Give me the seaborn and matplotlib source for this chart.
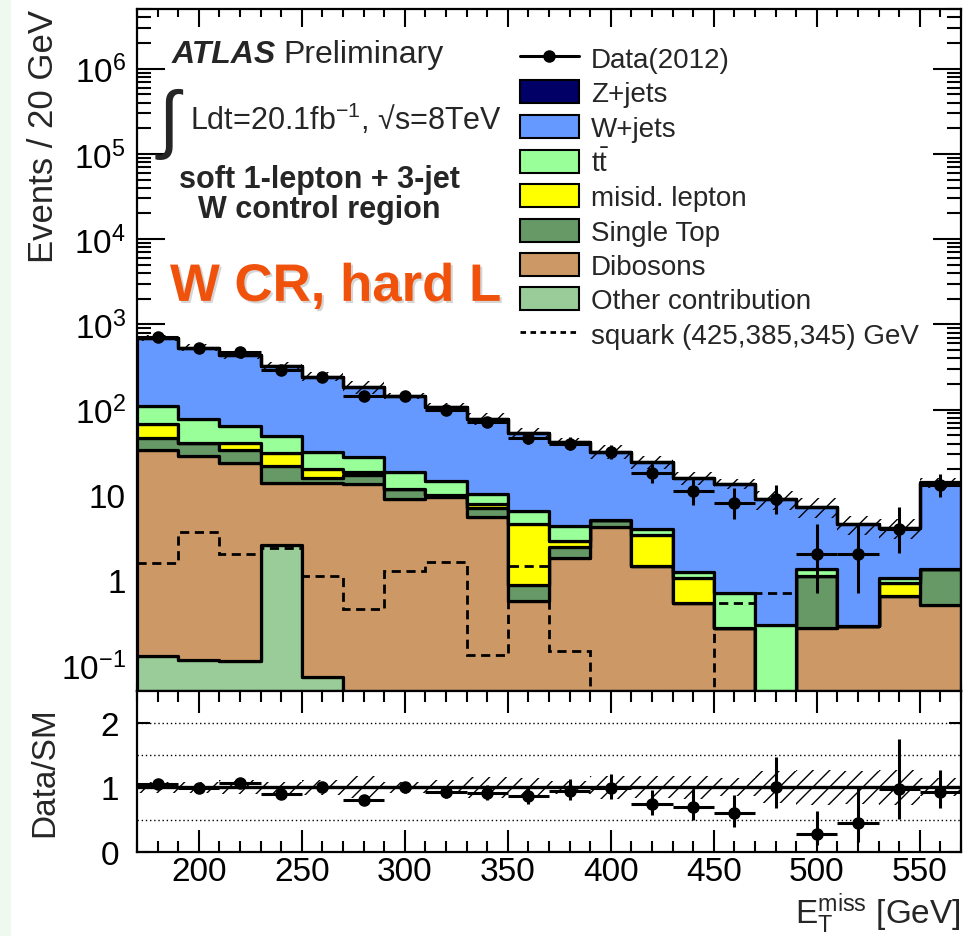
import numpy as np
import pandas as pd
import matplotlib
matplotlib.use("Agg")
import matplotlib.pyplot as plt
import matplotlib.patheffects as pe
import seaborn as sns
from matplotlib.lines import Line2D
from matplotlib.patches import Patch, Rectangle
from matplotlib.ticker import FixedLocator, FixedFormatter, MultipleLocator, NullFormatter

# ---------------------------------------------------------------- data
bin_edges = [170, 190, 210, 230, 250, 270, 290, 310, 330, 350, 370,
             390, 410, 430, 450, 470, 490, 510, 530, 550, 570]

data_counts = [719, 530, 470, 295, 244, 146, 146, 100, 71, 46,
               40, 32, 18, 11, 8, 9, 2, 2, 4, 13]
data_err_lo = [27, 23, 21.7, 17.2, 15.6, 12, 12, 10, 8.4, 6.8,
               6.3, 5.6, 4.2, 3.3, 2.8, 3.0, 1.3, 1.3, 1.9, 3.6]
data_err_hi = [28, 24, 22.7, 18.2, 16.6, 13, 13, 11, 9.4, 7.8,
               7.4, 6.7, 5.3, 4.4, 3.9, 4.1, 2.6, 2.6, 3.2, 4.7]

z_jets = [1.2, 0.9, 0.7, 0.5, 0.4, 0.3, 0.25, 0.2, 0.15, 0.1,
          0.08, 0.06, 0.05, 0.04, 0.03, 0.02, 0.02, 0.01, 0.01, 0.03]
w_jets = [574.8, 455.5, 371.4, 278.0, 211.5, 154.6, 127.4, 93.1, 67.3, 46.2,
          37.7, 27.0, 20.1, 14.6, 12.7, 8.6, 5.9, 4.24, 3.06, 12.6]
ttbar = [43.2, 37.1, 24.7, 18.8, 12.2, 9.4, 6.8, 4.8, 2.4, 1.94,
         1.48, 0.0, 0.60, 0.16, 0.427, 0.296, 0.22, 0.0, 0.136, 0.0]
misid_lepton = [20.9, 0.0, 6.6, 8.7, 4.3, 1.6, 0.0, 0.0, 0.85, 3.64,
                0.40, 0.0, 1.91, 0.537, 0.0, 0.0, 0.0, 0.0, 0.258, 0.0]
single_top = [13.3, 11.9, 10.2, 8.1, 1.7, 3.8, 2.67, 0.4, 1.46, 0.30,
              0.67, 0.86, 0.0, 0.0, 0.0, 0.0, 0.854, 0.0, 0.0, 0.831]
dibosons = [33.5, 28.5, 23.3, 11.3, 13.8, 13.3, 8.93, 9.5, 5.49, 0.573,
            1.80, 4.2, 1.46, 0.533, 0.271, 0.0, 0.276, 0.29, 0.656, 0.509]
other_contrib = [0.13, 0.115, 0.113, 2.57, 0.073, 0, 0, 0, 0, 0,
                 0, 0, 0, 0, 0, 0, 0, 0, 0, 0]

squark_signal = [1.57, 3.63, 2.0, 2.36, 1.13, 0.453, 1.29, 1.64, 0.132, 1.46,
                 0.148, 0, 0, 0, 0.542, 0.698, 0, 0, 0, 0]

sm_rel_unc = [0.08, 0.09, 0.11, 0.09, 0.12, 0.17, 0.08, 0.11, 0.16, 0.14,
              0.10, 0.18, 0.17, 0.18, 0.14, 0.25, 0.27, 0.26, 0.27, 0.14]

process_names = ["Z+jets", "W+jets", "t$\\bar{\\rm t}$", "misid. lepton",
                 "Single Top", "Dibosons", "Other contribution"]
process_values = [z_jets, w_jets, ttbar, misid_lepton, single_top, dibosons, other_contrib]
process_colors = ["#000066", "#6699ff", "#99ff99", "#ffff00", "#669966", "#cc9966", "#99cc99"]

y_ticks = [0.1, 1, 10, 100, 1e3, 1e4, 1e5, 1e6]
y_tick_labels = ["$10^{-1}$", "1", "10", "$10^{2}$", "$10^{3}$", "$10^{4}$", "$10^{5}$", "$10^{6}$"]
x_ticks = [200, 250, 300, 350, 400, 450, 500, 550]

# ---------------------------------------------------------------- style
sns.set_theme(style="ticks")
plt.rcParams.update({
    "font.family": ["Liberation Sans", "DejaVu Sans"],
    "mathtext.fontset": "custom",
    "mathtext.rm": "Liberation Sans",
    "mathtext.it": "Liberation Sans:italic",
    "mathtext.bf": "Liberation Sans:bold",
    "axes.linewidth": 1.6,
    "hatch.linewidth": 1.0,
    "xtick.direction": "in",
    "ytick.direction": "in",
    "xtick.color": "black",
    "ytick.color": "black",
    "axes.edgecolor": "black",
})

edges = np.array(bin_edges, dtype=float)
centers = 0.5 * (edges[:-1] + edges[1:])
nbins = len(centers)

df = pd.DataFrame({
    "met": np.tile(centers, len(process_names)),
    "events": np.concatenate([np.asarray(v, dtype=float) for v in process_values]),
    "process": np.repeat(process_names, nbins),
})

total = np.sum([np.asarray(v, dtype=float) for v in process_values], axis=0)
data = np.asarray(data_counts, dtype=float)
err_lo = np.asarray(data_err_lo, dtype=float)
err_hi = np.asarray(data_err_hi, dtype=float)
rel = np.asarray(sm_rel_unc, dtype=float)

fig = plt.figure(figsize=(9.76, 9.37), dpi=100)
fig.patches.append(Rectangle((0, 0), 11 / 976, 1, transform=fig.transFigure,
                             facecolor="#f0f9f0", edgecolor="none", zorder=-5))
ax = fig.add_axes([0.1404, 0.2615, 0.8443, 0.7278])
axr = fig.add_axes([0.1404, 0.0900, 0.8443, 0.1715], sharex=ax)

# ---------------------------------------------------------------- main panel
ax.set_yscale("log")
sns.histplot(data=df, x="met", weights="events", hue="process",
             hue_order=process_names, palette=process_colors,
             multiple="stack", bins=list(bin_edges), element="step", fill=True,
             alpha=1, edgecolor="black", linewidth=2.2, legend=False, ax=ax)
for coll in ax.collections:
    coll.set_linewidth(2.3)
    coll.set_edgecolor("black")

# systematic band around the SM total
tot_ext = np.append(total, total[-1])
rel_ext = np.append(rel, rel[-1])
ax.fill_between(edges, tot_ext * (1 - rel_ext), tot_ext * (1 + rel_ext), step="post",
                facecolor="none", edgecolor="black", hatch="//", linewidth=0, zorder=2)

# signal
ax.stairs(squark_signal, edges, baseline=None, color="black", lw=2.0,
          linestyle=(0, (3.3, 2.0)), zorder=3)

# data
ax.errorbar(centers, data, xerr=10, yerr=[err_lo, err_hi], fmt="o", color="black",
            ms=8, elinewidth=2.2, capsize=0, zorder=5)

ax.set_xlim(170, 570)
ax.set_ylim(0.05, 5e6)
ax.set_xlabel("")
ax.set_ylabel("Events / 20 GeV", fontsize=25, loc="top")
ax.yaxis.set_label_coords(-0.093, 1.0)
ax.yaxis.set_major_locator(FixedLocator(y_ticks))
ax.yaxis.set_major_formatter(FixedFormatter(y_tick_labels))
minor = [m * 10.0 ** k for k in range(-2, 7) for m in range(2, 10)]
ax.yaxis.set_minor_locator(FixedLocator(minor))
ax.yaxis.set_minor_formatter(NullFormatter())
ax.xaxis.set_major_locator(FixedLocator(x_ticks))
ax.xaxis.set_minor_locator(MultipleLocator(10))
ax.tick_params(axis="both", which="both", top=True, right=True, labelbottom=False,
               width=1.5, labelsize=24)
ax.tick_params(axis="y", which="major", length=20, pad=8)
ax.tick_params(axis="y", which="minor", length=10)
ax.tick_params(axis="x", which="major", length=13)
ax.tick_params(axis="x", which="minor", length=6)

# labels
ax.text(0.0425, 0.922, "ATLAS", transform=ax.transAxes, fontsize=23,
        fontweight="bold", style="italic", va="baseline")
ax.text(0.178, 0.922, "Preliminary", transform=ax.transAxes, fontsize=23, va="baseline")
ax.text(0.026, 0.832, "\u222b", transform=ax.transAxes, fontsize=54, va="center")
ax.text(0.0643, 0.824, "Ldt=20.1fb$^{-1}$, \u221as=8TeV", transform=ax.transAxes,
        fontsize=22, va="baseline")
ax.text(0.221, 0.739, "soft 1-lepton + 3-jet", transform=ax.transAxes, fontsize=22,
        fontweight="bold", ha="center", va="baseline")
ax.text(0.221, 0.695, "W control region", transform=ax.transAxes, fontsize=22,
        fontweight="bold", ha="center", va="baseline")
ax.text(0.040, 0.572, "W CR, hard L", transform=ax.transAxes, fontsize=38,
        fontweight="bold", color="#f0520c", va="baseline",
        path_effects=[pe.withSimplePatchShadow(offset=(1.5, -1.5), shadow_rgbFace="#888888",
                                               alpha=0.35)])

handles = [Line2D([], [], color="black", marker="o", ms=8, lw=2.2)]
handles += [Patch(facecolor=c, edgecolor="black", lw=1.5) for c in process_colors]
handles += [Line2D([], [], color="black", lw=2.0, linestyle=(0, (2, 1.6)))]
labels = ["Data(2012)"] + ["Z+jets", "W+jets", "t$\\bar{\\rm t}$", "misid. lepton",
                           "Single Top", "Dibosons", "Other contribution"] + \
         ["squark (425,385,345) GeV"]
ax.legend(handles, labels, loc="upper left", bbox_to_anchor=(0.465, 0.946),
          frameon=False, fontsize=20, borderpad=0, borderaxespad=0,
          handlelength=2.1, handleheight=0.9, handletextpad=0.45, labelspacing=0.26)

# ---------------------------------------------------------------- ratio panel
for yv in (0.5, 1.5, 2.0):
    axr.axhline(yv, color="black", lw=1.0, linestyle=(0, (1, 2)), zorder=1)
axr.fill_between(edges, 1 - rel_ext, 1 + rel_ext, step="post", facecolor="none",
                 edgecolor="black", hatch="//", linewidth=0, zorder=2)
axr.axhline(1.0, color="black", lw=2.4, zorder=3)
ratio = data / total
axr.errorbar(centers, ratio, xerr=10, yerr=[err_lo / total, err_hi / total], fmt="o",
             color="black", ms=8, elinewidth=2.2, capsize=0, zorder=5)
axr.set_ylim(0, 2.5)
axr.set_xlim(170, 570)
axr.set_yticks([0, 1, 2])
axr.set_yticklabels(["0", "1", "2"])
axr.xaxis.set_major_locator(FixedLocator(x_ticks))
axr.xaxis.set_minor_locator(MultipleLocator(10))
axr.tick_params(axis="both", which="both", top=True, right=True, width=1.5, labelsize=24)
axr.tick_params(axis="x", which="major", length=16, pad=3)
axr.tick_params(axis="x", which="minor", length=8)
axr.tick_params(axis="y", which="major", length=9, pad=13)
axr.set_ylabel("Data/SM", fontsize=24)
axr.yaxis.set_label_coords(-0.093, 0.5)
axr.set_xlabel("E$_{\\rm T}^{\\rm miss}$ [GeV]", fontsize=24, loc="right")
axr.xaxis.set_label_coords(1.0, -0.445)
axr.xaxis.label.set_va("baseline")

fig.savefig("out.png", dpi=100, facecolor="white")
